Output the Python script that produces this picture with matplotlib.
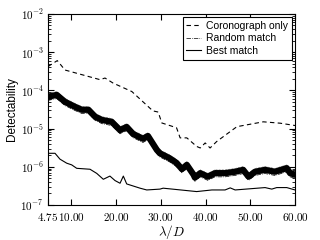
import numpy as np
import matplotlib
matplotlib.use('Agg')
import matplotlib.pyplot as plt
from matplotlib.ticker import FuncFormatter, LogLocator

plt.rcParams['mathtext.fontset'] = 'cm'
plt.rcParams['font.family'] = ['Liberation Sans', 'DejaVu Sans']

# Coronograph only
x_cor = [4.75, 6.83, 8.55, 16.4, 17.5, 19.3, 23.5, 28.2, 29.4, 30.2, 33.5, 34.3,
         35.8, 38.0, 38.8, 39.9, 41.0, 42.5, 47.0, 52.9, 56.7, 60.0]
y_cor = [4.2e-4, 6.0e-4, 3.4e-4, 1.9e-4, 2.1e-4, 1.55e-4, 9.3e-5, 2.9e-5, 2.7e-5,
         1.4e-5, 1.05e-5, 5.7e-6, 5.7e-6, 3.4e-6, 3.1e-6, 4.2e-6, 3.1e-6, 4.6e-6,
         1.12e-5, 1.5e-5, 1.38e-5, 1.2e-5]

# Random match (centre of the band of realisations)
x_rnd = [4.75, 6.7, 8.55, 10.8, 12.3, 13.8, 15.3, 16.8, 19.0, 20.86, 22.35, 23.8,
         26.0, 27.1, 29.1, 29.8, 30.5, 32.0, 33.5, 34.7, 35.8, 37.3, 37.6, 38.8,
         40.5, 42.1, 44.35, 46.6, 48.4, 49.6, 51.05, 53.3, 55.5, 58.15, 58.9, 60.0]
y_rnd = [6.8e-5, 7.6e-5, 5.0e-5, 3.7e-5, 3.1e-5, 3.1e-5, 2.04e-5, 1.68e-5, 1.5e-5,
         9.1e-6, 1.1e-5, 7.2e-6, 5.4e-6, 6.4e-6, 2.75e-6, 2.24e-6, 2.04e-6, 1.66e-6,
         1.26e-6, 8.7e-7, 1.12e-6, 6.2e-7, 5.2e-7, 6.8e-7, 5.5e-7, 6.8e-7, 6.8e-7,
         7.4e-7, 8.3e-7, 5.5e-7, 7.4e-7, 8.3e-7, 7.4e-7, 9.2e-7, 6.8e-7, 6.2e-7]

# Best match
x_best = [4.75, 6.32, 7.43, 8.93, 10.05, 11.17, 14.15, 15.65, 17.12, 18.6, 19.74,
          20.86, 21.6, 22.35, 25.33, 26.83, 29.8, 30.5, 38.0, 41.4, 44.35, 45.5,
          46.6, 53.3, 54.8, 55.9, 58.15, 60.0]
y_best = [2.25e-6, 2.25e-6, 1.58e-6, 1.24e-6, 1.12e-6, 9.1e-7, 8.6e-7, 6.7e-7,
          4.7e-7, 5.7e-7, 4.35e-7, 3.7e-7, 5.7e-7, 3.55e-7, 2.75e-7, 2.47e-7,
          2.6e-7, 2.75e-7, 2.24e-7, 2.47e-7, 2.47e-7, 2.8e-7, 2.47e-7, 2.85e-7,
          2.6e-7, 2.85e-7, 2.85e-7, 2.47e-7]

xticks = [4.75, 10, 20, 30, 40, 50, 60]

fig = plt.figure(figsize=(3.2, 2.4), dpi=100)
ax = fig.add_axes([0.15, 0.146, 0.772, 0.796])

ax.plot(x_cor, y_cor, 'k--', lw=0.8, dashes=(4, 3), label='Coronograph only')
# thick band of overlapping random realisations
ax.plot(x_rnd, y_rnd, 'k-', lw=4.5, solid_joinstyle='round')
ax.plot(x_rnd, np.array(y_rnd) * 0.8, 'k-.', lw=0.5, label='Random match')
ax.plot(x_rnd, np.array(y_rnd) * 1.22, 'k:', lw=0.4)
ax.plot(x_best, y_best, 'k-', lw=0.8, label='Best match')

ax.set_yscale('log')
ax.set_ylim(1e-7, 1e-2)
ax.set_xlim(4.75, 60)
ax.set_xticks(xticks)
ax.set_xticklabels([r'$%.2f$' % v for v in xticks])
ax.yaxis.set_major_formatter(FuncFormatter(lambda v, p: r'$10^{%d}$' % round(np.log10(v))))
ax.yaxis.set_minor_locator(LogLocator(subs=np.arange(2, 10)))
ax.tick_params(which='both', direction='in', top=True, right=True, labelsize=8)
ax.tick_params(which='major', length=4, pad=3)
ax.tick_params(axis='x', which='major', pad=4)
ax.tick_params(which='minor', length=2)
for s in ax.spines.values():
    s.set_linewidth(0.8)

ax.set_xlabel(r'$\lambda/D$', fontsize=9.5, labelpad=0)
ax.set_ylabel('Detectability', fontsize=8.5, labelpad=2)

leg = ax.legend(loc='upper right', fontsize=7.5, fancybox=False, framealpha=1,
                edgecolor='k', borderaxespad=0.3, handlelength=1.4,
                labelspacing=0.25, borderpad=0.35, handletextpad=0.5)
leg.get_frame().set_linewidth(0.8)

fig.savefig('out.png', dpi=100)
